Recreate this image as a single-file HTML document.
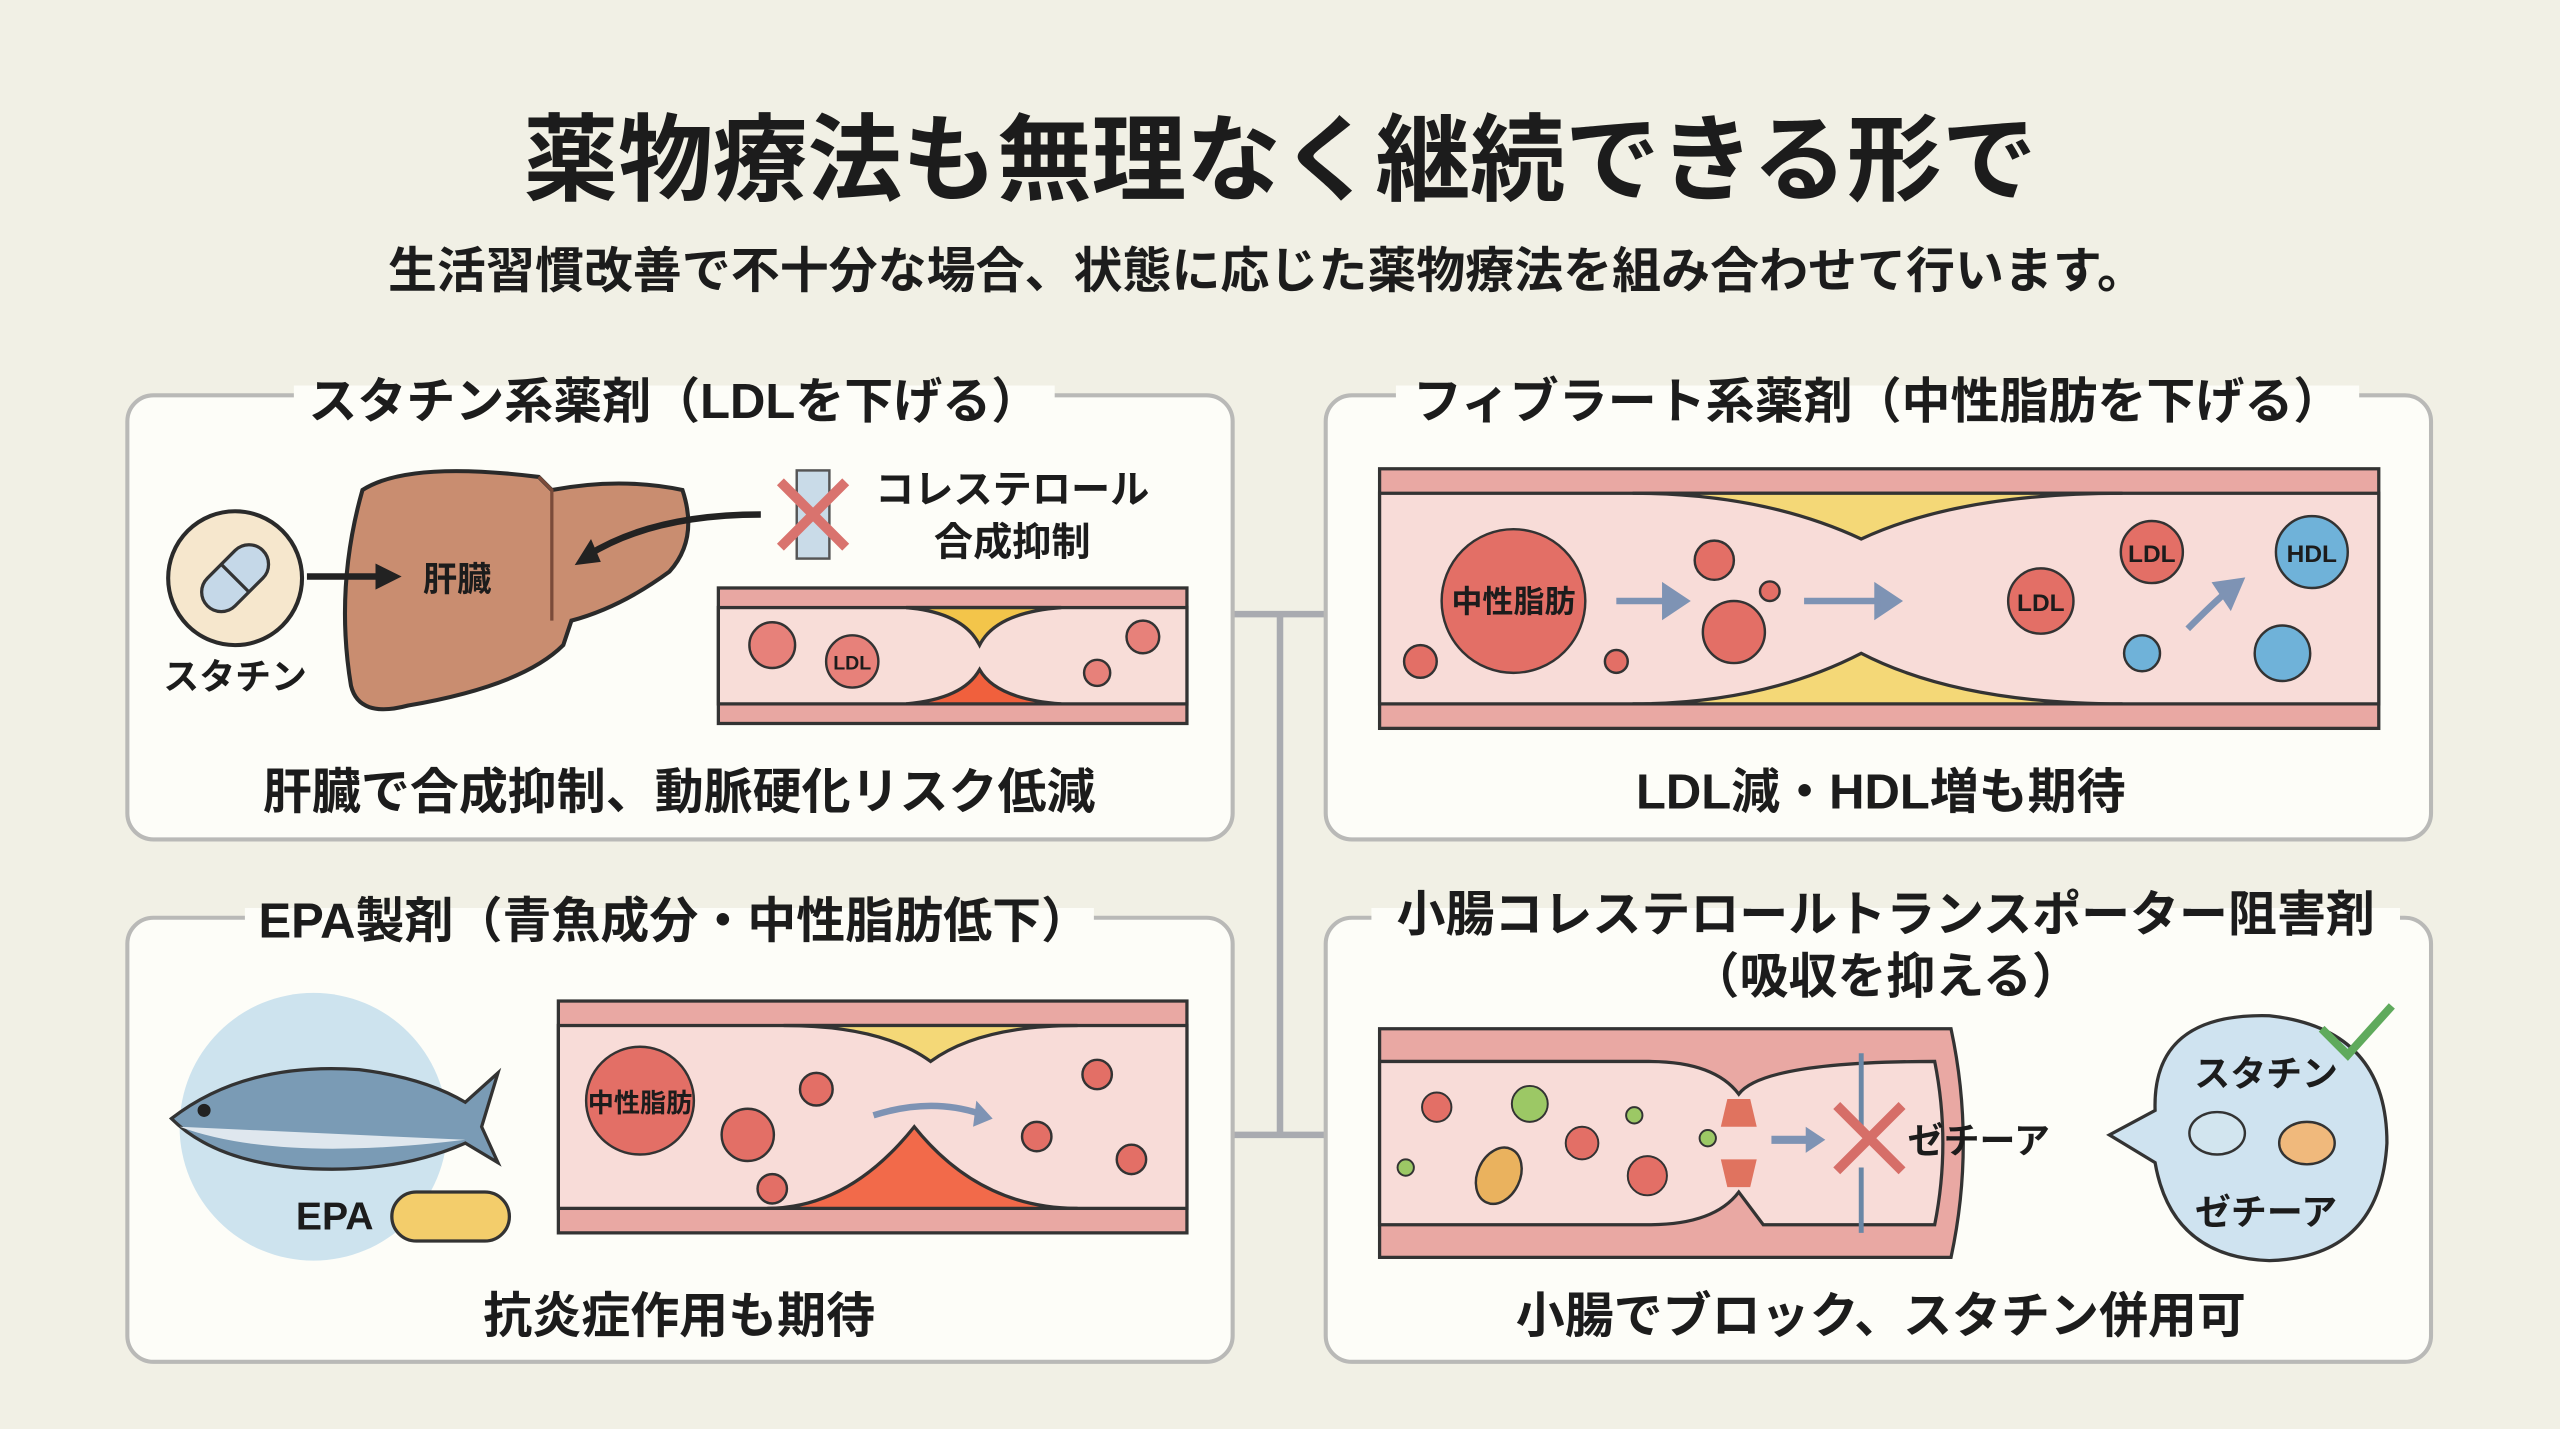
<!DOCTYPE html>
<html><head><meta charset="utf-8"><style>
html,body{margin:0;padding:0;background:#f1f0e5;}
svg{display:block}
text{font-family:"Liberation Sans","Noto Sans CJK JP",sans-serif;font-weight:bold;fill:#1c1c1c}
</style></head><body>
<svg width="2560" height="1429" viewBox="0 0 1568 875" xmlns="http://www.w3.org/2000/svg">
<rect width="1568" height="875" fill="#f1f0e5"/>
<text x="784" y="118" font-size="58" text-anchor="middle">薬物療法も無理なく継続できる形で</text>
<text x="776" y="176" font-size="30" text-anchor="middle">生活習慣改善で不十分な場合、状態に応じた薬物療法を組み合わせて行います。</text>

<g stroke="#a9abb0" stroke-width="4" fill="none">
<path d="M755 376 H812 M784 376 V695 M755 695 H812"/>
</g>

<g fill="#fdfdf8" stroke="#b9b9b7" stroke-width="2.5">
<rect x="78" y="242" width="677" height="272" rx="16"/>
<rect x="812" y="242" width="677" height="272" rx="16"/>
<rect x="78" y="562" width="677" height="272" rx="16"/>
<rect x="812" y="562" width="677" height="272" rx="16"/>
</g>
<g fill="#fdfdf8">
<rect x="180" y="236" width="466" height="14"/>
<rect x="855" y="236" width="590" height="14"/>
<rect x="150" y="556" width="520" height="14"/>
<rect x="840" y="556" width="630" height="14"/>
</g>
<text x="413" y="256" font-size="30" text-anchor="middle">スタチン系薬剤（LDLを下げる）</text>
<text x="1150" y="256" font-size="30" text-anchor="middle">フィブラート系薬剤（中性脂肪を下げる）</text>
<text x="413" y="574" font-size="30" text-anchor="middle">EPA製剤（青魚成分・中性脂肪低下）</text>
<text x="1155" y="570" font-size="30" text-anchor="middle">小腸コレステロールトランスポーター阻害剤</text>
<text x="1155" y="608" font-size="30" text-anchor="middle">（吸収を抑える）</text>

<!-- Box1 -->
<circle cx="144" cy="354" r="41" fill="#f6e7cd" stroke="#2a2a2a" stroke-width="2.5"/>
<g transform="rotate(-45 144 354)"><rect x="120" y="342" width="48" height="24" rx="12" fill="#c5d8e8" stroke="#333" stroke-width="2"/><line x1="144" y1="342" x2="144" y2="366" stroke="#333" stroke-width="2"/></g>
<text x="144" y="422" font-size="22" text-anchor="middle">スタチン</text>
<path d="M222 300 Q250 282 330 292 L338 300 Q380 292 418 300 Q428 330 410 350 Q380 372 350 380 L345 395 Q320 420 250 432 Q220 440 215 420 Q205 360 222 300Z" fill="#c98d70" stroke="#2a2a2a" stroke-width="2.5"/>
<path d="M330 292 L338 300 L338 380" stroke="#7a4b3a" stroke-width="2" fill="none"/>
<path d="M188 353 H232" stroke="#222" stroke-width="4"/><path d="M230 345 L246 353 L230 361Z" fill="#222"/>
<text x="280" y="362" font-size="21" text-anchor="middle">肝臓</text>
<path d="M466 315 Q400 315 360 340" stroke="#222" stroke-width="4" fill="none"/><path d="M352 346 L362 330 L368 344Z" fill="#222"/>
<rect x="488" y="288" width="20" height="54" fill="#c9dbe8" stroke="#555" stroke-width="1.5"/>
<path d="M478 295 L518 335 M518 295 L478 335" stroke="#d9736e" stroke-width="6"/>
<text x="620" y="308" font-size="24" text-anchor="middle">コレステロール</text>
<text x="620" y="340" font-size="24" text-anchor="middle">合成抑制</text>
<rect x="440" y="360" width="287" height="83" fill="#e8a7a2" stroke="#333" stroke-width="2"/>
<rect x="440" y="372" width="287" height="59" fill="#f8ddd8" stroke="#333" stroke-width="2"/>
<path d="M555 372 Q590 375 600 395 Q610 375 650 372Z" fill="#f3c54a" stroke="#333" stroke-width="2"/>
<path d="M555 431 Q590 428 600 410 Q610 428 650 431Z" fill="#f0603d" stroke="#333" stroke-width="2"/>
<g fill="#e7817a" stroke="#333" stroke-width="1.5">
<circle cx="473" cy="395" r="14"/><circle cx="522" cy="405" r="16"/><circle cx="700" cy="390" r="10"/><circle cx="672" cy="412" r="8"/></g>
<text x="522" y="410" font-size="12" text-anchor="middle">LDL</text>
<text x="416" y="495" font-size="30" text-anchor="middle">肝臓で合成抑制、動脈硬化リスク低減</text>

<!-- Box2 -->
<rect x="845" y="287" width="612" height="159" fill="#e9a8a3" stroke="#333" stroke-width="2"/>
<rect x="845" y="302" width="612" height="129" fill="#f8dcd8" stroke="#333" stroke-width="2"/>
<path d="M1000 302 Q1080 302 1140 330 Q1200 302 1300 302Z" fill="#f4d877" stroke="#333" stroke-width="2"/>
<path d="M1000 431 Q1080 431 1140 400 Q1200 431 1300 431Z" fill="#f4d877" stroke="#333" stroke-width="2"/>
<g fill="#e36f66" stroke="#333" stroke-width="1.5">
<circle cx="927" cy="368" r="44"/><circle cx="1050" cy="343" r="12"/><circle cx="1062" cy="387" r="19"/><circle cx="1250" cy="368" r="20"/><circle cx="1318" cy="338" r="19"/><circle cx="870" cy="405" r="10"/><circle cx="990" cy="405" r="7"/><circle cx="1084" cy="362" r="6"/></g>
<g fill="#6fb2d9" stroke="#333" stroke-width="1.5"><circle cx="1416" cy="338" r="22"/><circle cx="1312" cy="400" r="11"/><circle cx="1398" cy="400" r="17"/></g>
<text x="927" y="375" font-size="19" text-anchor="middle">中性脂肪</text>
<text x="1250" y="374" font-size="15" text-anchor="middle">LDL</text>
<text x="1318" y="344" font-size="15" text-anchor="middle">LDL</text>
<text x="1416" y="344" font-size="15" text-anchor="middle">HDL</text>
<g fill="#7e93b4" stroke="#7e93b4" stroke-width="4"><path d="M990 368 H1020" /><path d="M1020 360 L1032 368 L1020 376Z"/><path d="M1105 368 H1150"/><path d="M1150 360 L1162 368 L1150 376Z"/><path d="M1340 385 Q1355 370 1362 364" fill="none"/><path d="M1358 358 L1372 356 L1366 370Z"/></g>
<text x="1152" y="495" font-size="30" text-anchor="middle">LDL減・HDL増も期待</text>

<!-- Box3 -->
<circle cx="192" cy="690" r="82" fill="#cde3ee"/>
<path d="M105 685 Q150 650 220 655 Q260 660 285 675 L305 657 L295 690 L305 712 L285 700 Q240 720 180 715 Q130 710 105 685Z" fill="#7a9bb5" stroke="#333" stroke-width="2"/>
<path d="M110 690 Q170 712 285 698" fill="#dfe7ee" stroke="none"/>
<circle cx="125" cy="680" r="4" fill="#222"/>
<text x="205" y="753" font-size="24" text-anchor="middle">EPA</text>
<rect x="240" y="730" width="72" height="30" rx="15" fill="#f3cd6b" stroke="#333" stroke-width="2"/>
<rect x="342" y="613" width="385" height="142" fill="#e9a8a3" stroke="#333" stroke-width="2"/>
<rect x="342" y="628" width="385" height="112" fill="#f8dcd8" stroke="#333" stroke-width="2"/>
<path d="M480 628 Q540 628 570 650 Q600 628 660 628Z" fill="#f4d877" stroke="#333" stroke-width="2"/>
<path d="M470 740 Q520 740 560 690 Q600 740 660 740Z" fill="#f26a4a" stroke="#333" stroke-width="2"/>
<g fill="#e36f66" stroke="#333" stroke-width="1.5"><circle cx="392" cy="674" r="33"/><circle cx="458" cy="695" r="16"/><circle cx="500" cy="667" r="10"/><circle cx="473" cy="728" r="9"/><circle cx="672" cy="658" r="9"/><circle cx="635" cy="696" r="9"/><circle cx="693" cy="710" r="9"/></g>
<text x="392" y="681" font-size="16" text-anchor="middle">中性脂肪</text>
<path d="M535 683 Q570 672 600 682" stroke="#7e93b4" stroke-width="4" fill="none"/><path d="M598 674 L608 685 L596 690Z" fill="#7e93b4"/>
<text x="416" y="816" font-size="30" text-anchor="middle">抗炎症作用も期待</text>

<!-- Box4 -->
<path d="M845 630 H1195 Q1210 700 1195 770 H845Z" fill="#e9a8a3" stroke="#333" stroke-width="2"/>
<path d="M845 650 H1010 Q1050 650 1065 670 Q1080 650 1185 650 Q1195 700 1185 750 H1080 Q1065 730 1065 730 Q1050 750 1010 750 H845Z" fill="#f8dcd8" stroke="#333" stroke-width="2"/>
<path d="M1140 645 V690 M1140 715 V755" stroke="#6a87a6" stroke-width="3"/>
<path d="M1125 677 L1165 717 M1165 677 L1125 717" stroke="#d66e68" stroke-width="6"/>
<g fill="#e0735f"><path d="M1058 673 L1072 673 L1076 690 L1054 690Z"/><path d="M1054 710 L1076 710 L1072 727 L1058 727Z"/></g>
<g fill="#e36f66" stroke="#333" stroke-width="1.2"><circle cx="880" cy="678" r="9"/><circle cx="969" cy="700" r="10"/><circle cx="1009" cy="720" r="12"/></g>
<g fill="#9cc865" stroke="#333" stroke-width="1.2"><circle cx="937" cy="676" r="11"/><circle cx="1001" cy="683" r="5"/><circle cx="1046" cy="697" r="5"/><circle cx="861" cy="715" r="5"/></g>
<ellipse cx="918" cy="720" rx="13" ry="18" fill="#eab25e" stroke="#333" stroke-width="1.5" transform="rotate(25 918 720)"/>
<path d="M1085 698 H1108" stroke="#7e93b4" stroke-width="5"/><path d="M1106 690 L1118 698 L1106 706Z" fill="#7e93b4"/>
<text x="1212" y="706" font-size="22" text-anchor="middle">ゼチーア</text>
<path d="M1292 695 L1320 680 Q1318 620 1390 622 Q1462 630 1462 700 Q1458 770 1390 772 Q1330 770 1320 712Z" fill="#cfe3f0" stroke="#333" stroke-width="2"/>
<text x="1388" y="665" font-size="22" text-anchor="middle">スタチン</text>
<text x="1388" y="750" font-size="22" text-anchor="middle">ゼチーア</text>
<path d="M1422 630 L1438 646 L1465 616" stroke="#5faa5c" stroke-width="5" fill="none"/>
<ellipse cx="1358" cy="694" rx="17" ry="13" fill="#d2e5ef" stroke="#333" stroke-width="1.5"/>
<ellipse cx="1413" cy="700" rx="17" ry="13" fill="#f0b97c" stroke="#333" stroke-width="1.5"/>
<text x="1152" y="816" font-size="30" text-anchor="middle">小腸でブロック、スタチン併用可</text>
</svg>
</body></html>
